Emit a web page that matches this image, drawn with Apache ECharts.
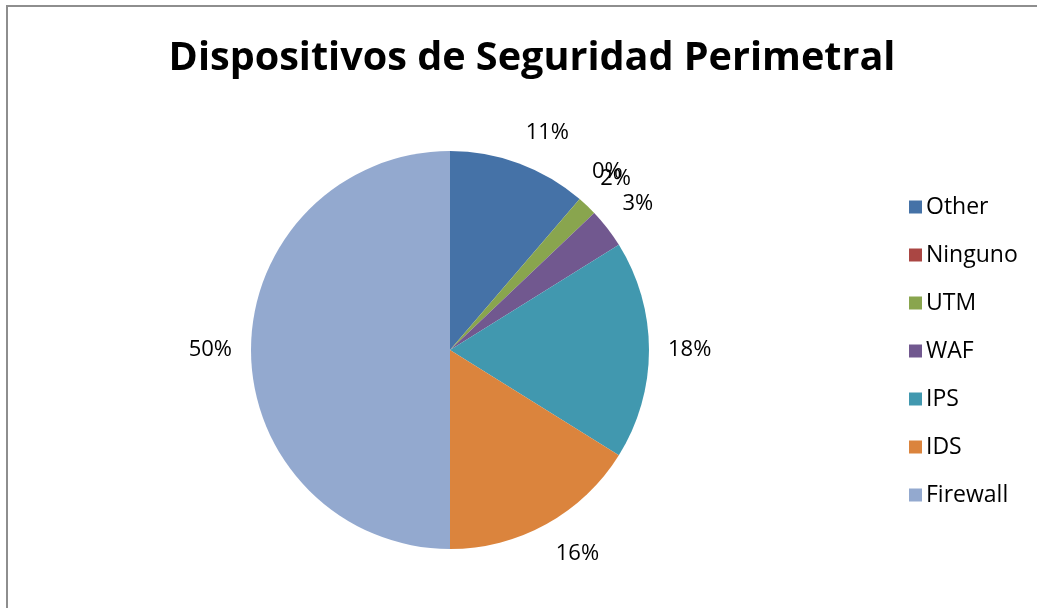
<!DOCTYPE html>
<html>
<head>
<meta charset="utf-8">
<script src="https://cdn.jsdelivr.net/npm/echarts@6/dist/echarts.min.js"></script>
<style>
  html, body { margin: 0; padding: 0; background: #fff; }
  .frame {
    position: absolute; left: 6px; top: 5px; width: 1100px; height: 700px;
    border-left: 2px solid #8e8e8e; border-top: 2px solid #8e8e8e;
  }
  #chart { position: absolute; left: 0; top: 0; width: 1037px; height: 608px; }
</style>
</head>
<body>
<div class="frame"></div>
<div id="chart"></div>
<script>
// Dispositivos de Seguridad Perimetral
const categories = ['Other', 'Ninguno', 'UTM', 'WAF', 'IPS', 'IDS', 'Firewall']
const counts = [7, 0, 1, 2, 11, 10, 31]
const colors = ['#4572A7', '#AA4643', '#89A54E', '#71588F', '#4198AF', '#DB843D', '#93A9CF']

const font = '"Open Sans", "Noto Sans", sans-serif'
const chart = echarts.init(document.getElementById('chart'))

const pieData = categories.map((name, i) => ({ name, value: counts[i] }))
const total = counts.reduce((a, b) => a + b, 0)

const clamp = v => Math.max(-1, Math.min(1, v))

// excel-like "outside end": the label box corner nearest the pie sits a fixed gap out along the slice's mid angle
function outsideEnd(params) {
  const pts = params.labelLinePoints
  if (!pts) return {}
  const vx = pts[1][0] - pts[0][0]
  const vy = pts[1][1] - pts[0][1]
  const len = Math.hypot(vx, vy) || 1
  const dx = vx / len
  const dy = vy / len
  const gap = 19
  const tx = pts[0][0] + dx * gap
  const ty = pts[0][1] + dy * gap
  const w = params.labelRect.width
  const h = params.labelRect.height
  return {
    x: tx + w / 2 * clamp(dx * 3),
    y: ty + h / 2 * clamp(dy * 3),
    align: 'center',
    verticalAlign: 'middle',
  }
}

const option = {
  color: colors,
  animation: false,
  title: {
    text: 'Dispositivos de Seguridad Perimetral',
    left: 527,
    textAlign: 'center',
    top: 34,
    textStyle: { fontFamily: font, fontSize: 39.6, fontWeight: 'bold', color: '#000' },
  },
  legend: {
    orient: 'vertical',
    left: 904,
    top: 190,
    data: categories,
    itemWidth: 13,
    itemHeight: 13,
    itemGap: 24,
    icon: 'rect',
    textStyle: { fontFamily: font, fontSize: 23, color: '#000', lineHeight: 24, padding: [0, 0, 0, -1] },
  },
  series: [
    {
      type: 'pie',
      center: [450, 350],
      radius: 199,
      startAngle: 90,
      clockwise: true,
      avoidLabelOverlap: false,
      data: pieData,
      label: {
        show: true,
        position: 'outside',
        fontFamily: font,
        fontSize: 22,
        lineHeight: 26,
        color: '#000',
        formatter: p => Math.round(p.value / total * 100) + '%',
      },
      labelLine: { show: true, length: 10, length2: 0, lineStyle: { opacity: 0 } },
      labelLayout: outsideEnd,
      emphasis: { disabled: true },
    },
  ],
}
chart.setOption(option)
</script>
</body>
</html>
